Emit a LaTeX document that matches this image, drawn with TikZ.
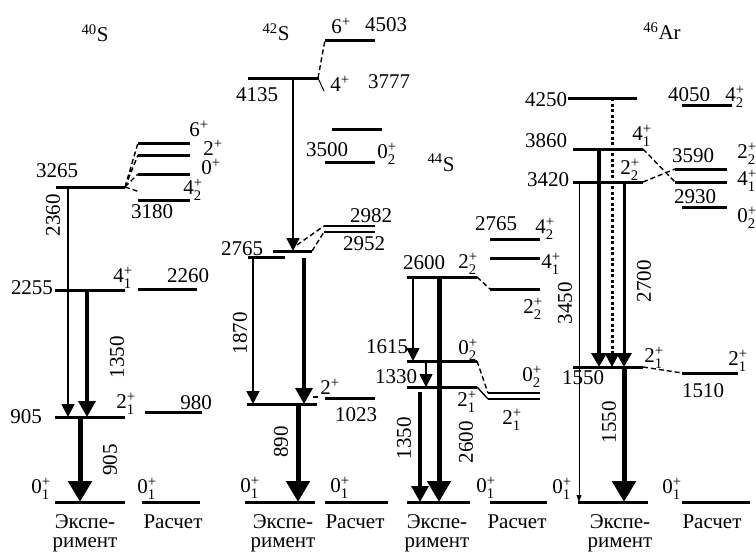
\documentclass[tikz,border=0pt]{standalone}
\usepackage{amsmath}
\usepackage{fontspec}
\setmainfont{Liberation Serif}
\usetikzlibrary{arrows.meta}

\newcommand{\sj}[2]{#1\smash{$^{\text{+}}_{\text{#2}}$}}
\newcommand{\pj}[1]{#1$^{\text{+}}$}
\newcommand{\nuc}[2]{\textsuperscript{#1}#2}

\begin{document}
\begin{tikzpicture}[x=1pt,y=-1pt,
  every node/.style={inner sep=0pt,font=\fontsize{21}{24}\selectfont},
  lev/.style={line width=3pt},
  link/.style={line width=1.4pt,dash pattern=on 5pt off 3pt},
  gam/.style={line width=1.8pt,-{Triangle[length=13pt,width=13pt]}},
  gamB/.style={line width=3.5pt,-{Triangle[length=16pt,width=17pt]}},
  gamC/.style={line width=5pt,-{Triangle[length=21pt,width=23pt]}},
  gamT/.style={line width=0.9pt,-{Triangle[length=7pt,width=5pt]}},
  gamD/.style={line width=3pt,dash pattern=on 3pt off 2.5pt,-{Triangle[length=14pt,width=14pt]}},
  rot/.style={rotate=90}]
\useasboundingbox (0,0) rectangle (756,554);

% 40S
\node (n40) at (95,33) {\nuc{40}{S}};
\draw[lev] (56,187) -- (125,187) coordinate (a40);
\draw[lev] (55,290) -- (125,290);
\draw[lev] (55,417) -- (125,417);
\draw[lev] (55,502) -- (125,502);
\draw[lev] (138,143) coordinate (c40a) -- (190,143);
\draw[lev] (138,155) coordinate (c40b) -- (190,155);
\draw[lev] (138,174) coordinate (c40c) -- (190,174);
\draw[lev] (138,200) -- (190,200);
\draw[lev] (138,289) -- (197,289);
\draw[lev] (145,412) -- (202,412);
\draw[lev] (142,502) -- (200,502);
\draw[link] (a40) -- (c40a) (a40) -- (c40b) (a40) -- (c40c) (a40) -- (140,192);
\draw[gam] (68,187) -- (68,417);
\draw[gamB] (87,290) -- (87,417);
\draw[gamC] (80,417) -- (80,502);
\node (l40a) at (57,171) {3265};
\node[rot] (g40a) at (53,215) {2360};
\node (l40b) at (199,129) {\pj{6}};
\node (l40c) at (213,148) {\pj{2}};
\node (l40d) at (211,167) {\pj{0}};
\node (l40e) at (193,188) {\sj{4}{2}};
\node (l40f) at (152,212) {3180};
\node (l40g) at (32,288) {2255};
\node (l40h) at (123,276) {\sj{4}{1}};
\node (l40i) at (188,276) {2260};
\node[rot] (g40b) at (117,357) {1350};
\node (l40j) at (126,402) {\sj{2}{1}};
\node (l40k) at (196,403) {980};
\node (l40l) at (26,417) {905};
\node[rot] (g40c) at (110,460) {905};
\node (l40m) at (41,487) {\sj{0}{1}};
\node (l40n) at (147,487) {\sj{0}{1}};
\node (x40) at (85,522) {Экспе-};
\node (y40) at (85,545) {римент};
\node (r40) at (173,522) {Расчет};

% 42S
\node (n42) at (276,32) {\nuc{42}{S}};
\draw[lev] (248,78) -- (318,78) coordinate (a42);
\draw[lev] (325,40) coordinate (c42a) -- (375,40);
\draw[link] (a42) -- (c42a);
\draw[line width=1pt] (a42) -- (324,91);
\draw[lev] (332,129) -- (382,129);
\draw[lev] (325,162) -- (375,162);
\draw[line width=2.5pt] (324,226) coordinate (c42b) -- (375,226);
\draw[line width=2.5pt] (324,232) coordinate (c42c) -- (375,232);
\draw[lev] (273,251) -- (312,251) coordinate (a42b);
\draw[lev] (248,257) -- (285,257);
\draw[link] (297,245) -- (c42b);
\draw[link] (a42b) -- (c42c);
\draw[lev] (247,404) -- (317,404);
\draw[lev] (325,398) -- (375,398);
\draw[line width=1.4pt] (313,397) -- (318,397);
\draw[lev] (245,502) -- (315,502);
\draw[lev] (325,502) -- (388,502);
\draw[gam] (293,78) -- (293,251);
\draw[gam] (253,257) -- (253,404);
\draw[gamB] (304,258) -- (304,404);
\draw[gamC] (298,404) -- (298,502);
\node (l42a) at (257,95) {4135};
\node (l42b) at (341,26) {\pj{6}};
\node (l42c) at (386,25) {4503};
\node (l42d) at (340,84) {\pj{4}};
\node (l42e) at (389,82) {3777};
\node (l42f) at (327,150) {3500};
\node (l42g) at (387,152) {\sj{0}{2}};
\node (l42h) at (371,216) {2982};
\node (l42i) at (364,244) {2952};
\node (l42j) at (242,249) {2765};
\node[rot] (g42a) at (240,333) {1870};
\node (l42k) at (330,387) {\pj{2}};
\node (l42l) at (356,415) {1023};
\node[rot] (g42b) at (281,442) {890};
\node (l42m) at (250,486) {\sj{0}{1}};
\node (l42n) at (340,486) {\sj{0}{1}};
\node (x42) at (283,522) {Экспе-};
\node (y42) at (283,545) {римент};
\node (r42) at (355,522) {Расчет};

% 44S
\node (n44) at (441,163) {\nuc{44}{S}};
\draw[lev] (490,239) -- (540,239);
\draw[lev] (490,258) -- (540,258);
\draw[lev] (490,289) coordinate (c44a) -- (540,289);
\draw[lev] (407,277) -- (477,277) coordinate (a44a);
\draw[link] (a44a) -- (c44a);
\draw[lev] (407,361) -- (477,361) coordinate (a44b);
\draw[lev] (407,387) -- (477,387) coordinate (a44c);
\draw[line width=2.5pt] (488,393) coordinate (c44b) -- (540,393);
\draw[line width=2.5pt] (488,399) coordinate (c44c) -- (540,399);
\draw[link] (a44b) -- (c44b);
\draw[line width=1.4pt] (a44c) -- (c44c);
\draw[lev] (407,502) -- (470,502);
\draw[lev] (490,502) -- (547,502);
\draw[gam] (413,277) -- (413,361);
\draw[gam] (426,361) -- (426,387);
\draw[gamB] (420,392) -- (420,502);
\draw[gamC] (439,277) -- (439,502);
\node (l44a) at (496,224) {2765};
\node (l44b) at (545,227) {\sj{4}{2}};
\node (l44c) at (551,262) {\sj{4}{1}};
\node (l44d) at (533,307) {\sj{2}{2}};
\node (l44e) at (424,263) {2600};
\node (l44f) at (468,262) {\sj{2}{2}};
\node (l44g) at (387,347) {1615};
\node (l44h) at (468,348) {\sj{0}{2}};
\node (l44i) at (396,377) {1330};
\node (l44j) at (467,400) {\sj{2}{1}};
\node (l44k) at (532,375) {\sj{0}{2}};
\node (l44l) at (512,418) {\sj{2}{1}};
\node[rot] (g44a) at (404,438) {1350};
\node[rot] (g44b) at (466,442) {2600};
\node (l44m) at (486,486) {\sj{0}{1}};
\node (x44) at (437,522) {Экспе-};
\node (y44) at (437,545) {римент};
\node (r44) at (517,522) {Расчет};

% 46Ar
\node (n46) at (662,31) {\nuc{46}{Ar}};
\draw[lev] (568,98) -- (637,98);
\draw[lev] (573,149) -- (643,149) coordinate (a46a);
\draw[lev] (573,182) -- (643,182) coordinate (a46b);
\draw[lev] (682,105) -- (732,105);
\draw[lev] (675,169) coordinate (c46a) -- (727,169);
\draw[lev] (675,182) coordinate (c46b) -- (727,182);
\draw[lev] (682,207) -- (727,207);
\draw[link] (a46a) -- (c46b) (a46b) -- (c46a);
\draw[lev] (573,367) -- (643,367) coordinate (a46c);
\draw[lev] (682,373) coordinate (c46c) -- (738,373);
\draw[link] (a46c) -- (c46c);
\draw[lev] (578,502) -- (648,502);
\draw[lev] (682,502) -- (750,502);
\draw[gamT] (579,182) -- (579,502);
\draw[line width=4pt,-{Triangle[length=14pt,width=15pt]}] (599,149) -- (599,367);
\draw[gamD] (612,98) -- (612,367);
\draw[line width=3pt,-{Triangle[length=14pt,width=15pt]}] (624,182) -- (624,367);
\draw[gamC] (624,367) -- (624,502);
\node (l46a) at (546,100) {4250};
\node (l46b) at (546,141) {3860};
\node (l46c) at (642,134) {\sj{4}{1}};
\node (l46d) at (548,180) {3420};
\node (l46e) at (630,168) {\sj{2}{2}};
\node (l46f) at (689,95) {4050};
\node (l46g) at (735,95) {\sj{4}{2}};
\node (l46h) at (693,156) {3590};
\node (l46i) at (747,152) {\sj{2}{2}};
\node (l46j) at (747,179) {\sj{4}{1}};
\node (l46k) at (695,197) {2930};
\node (l46l) at (747,216) {\sj{0}{2}};
\node[rot] (g46a) at (565,303) {3450};
\node[rot] (g46b) at (644,281) {2700};
\node (l46m) at (654,356) {\sj{2}{1}};
\node (l46n) at (583,378) {1550};
\node (l46o) at (738,359) {\sj{2}{1}};
\node (l46p) at (703,391) {1510};
\node[rot] (g46c) at (609,422) {1550};
\node (l46q) at (562,487) {\sj{0}{1}};
\node (l46r) at (672,487) {\sj{0}{1}};
\node (x46) at (620,522) {Экспе-};
\node (y46) at (620,545) {римент};
\node (r46) at (712,522) {Расчет};
\end{tikzpicture}
\end{document}
